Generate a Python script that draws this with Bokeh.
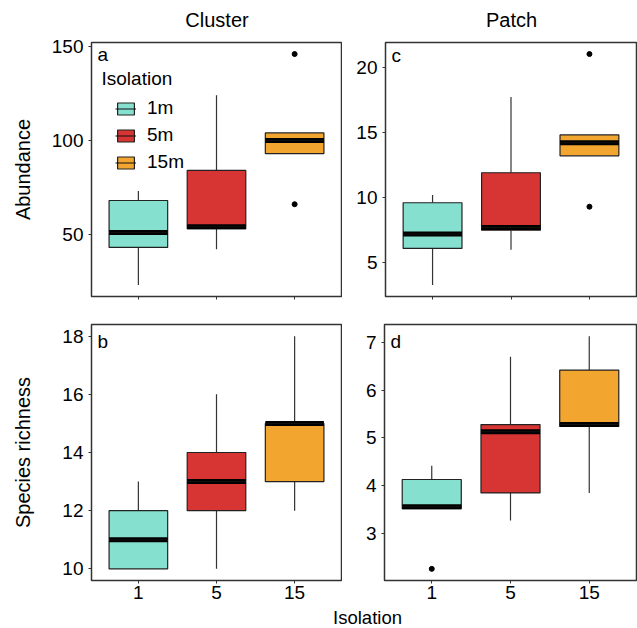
import numpy as np
from bokeh.plotting import figure
from bokeh.models import (Range1d, FixedTicker, Label, Legend, LegendItem,
                          ColumnDataSource)
from bokeh.layouts import column, row
from bokeh.embed import file_html
from bokeh.resources import INLINE

FONT = "Liberation Sans"

# ---------------- data ----------------
isolation = ["1", "5", "15"]
legend_labels = ["1m", "5m", "15m"]
colors = ["#85E0CF", "#D63534", "#F2A630"]
col_titles = ["Cluster", "Patch"]

# (a) Cluster - Abundance
a_low = [23, 42, 93]
a_q1 = [43, 53, 93]
a_med = [51, 54, 100]
a_q3 = [68, 84, 104]
a_high = [73, 124, 104]
a_out_cat = ["15", "15"]
a_out_val = [146, 66]
a_yticks = [50, 100, 150]

# (c) Patch - Abundance
c_low = [3.3, 6.0, 13.2]
c_q1 = [6.1, 7.5, 13.2]
c_med = [7.2, 7.7, 14.2]
c_q3 = [9.6, 11.9, 14.8]
c_high = [10.2, 17.7, 14.8]
c_out_cat = ["15", "15"]
c_out_val = [21.0, 9.3]
c_yticks = [5, 10, 15, 20]

# (b) Cluster - Species richness
b_low = [10, 10, 12]
b_q1 = [10, 12, 13]
b_med = [11, 13, 15]
b_q3 = [12, 14, 15]
b_high = [13, 16, 18]
b_out_cat = []
b_out_val = []
b_yticks = [10, 12, 14, 16, 18]

# (d) Patch - Species richness
d_low = [3.52, 3.27, 3.85]
d_q1 = [3.52, 3.85, 5.24]
d_med = [3.56, 5.13, 5.28]
d_q3 = [4.13, 5.28, 6.42]
d_high = [4.42, 6.70, 7.13]
d_out_cat = ["1"]
d_out_val = [2.26]
d_yticks = [3, 4, 5, 6, 7]

BOX_W = 0.75


def ypad(lo, hi):
    span = hi - lo
    return lo - 0.05 * span, hi + 0.05 * span


def panel(low, q1, med, q3, high, out_cat, out_val, yticks, *, width, height,
          border, show_xlabels, ylabel=None, label_standoff=15,
          letter="a", letter_drop=13.4, legend=False):
    xs = np.arange(1, len(isolation) + 1)
    pos = {c: i + 1 for i, c in enumerate(isolation)}
    allv = list(low) + list(high) + list(out_val)
    lo, hi = ypad(min(allv), max(allv))
    p = figure(width=width, height=height, x_range=Range1d(0.4, len(isolation) + 0.6),
               y_range=Range1d(lo, hi), output_backend="svg", toolbar_location=None,
               min_border_left=border[0], min_border_right=border[1],
               min_border_top=border[2], min_border_bottom=border[3])
    p.grid.visible = False
    p.outline_line_color = "#333333"
    p.outline_line_width = 1.5
    p.background_fill_color = "white"
    p.border_fill_color = "white"

    for ax in p.axis:
        ax.axis_line_color = "#333333"
        ax.axis_line_width = 1
        ax.major_tick_out = 3
        ax.major_tick_in = 0
        ax.minor_tick_out = 0
        ax.minor_tick_in = 0
        ax.major_tick_line_color = "#333333"
        ax.major_label_text_font = FONT
        ax.major_label_text_font_size = "19px"
        ax.major_label_text_color = "black"
        ax.axis_label_text_font = FONT
        ax.axis_label_text_font_size = "20px"
        ax.axis_label_text_font_style = "normal"
        ax.axis_label_text_color = "black"
    p.xaxis.ticker = FixedTicker(ticks=[int(x) for x in xs])
    p.xaxis.major_label_overrides = {int(x): c for x, c in zip(xs, isolation)}
    p.xaxis.major_label_standoff = 2
    if not show_xlabels:
        p.xaxis.major_label_text_color = None
    p.yaxis.ticker = FixedTicker(ticks=yticks)
    p.yaxis.major_label_standoff = 5
    if ylabel:
        p.yaxis.axis_label = ylabel
        p.yaxis.axis_label_standoff = label_standoff

    frame_h = height - border[2] - border[3]

    src = ColumnDataSource(dict(
        x=xs, low=low, q1=q1, med=med, q3=q3, high=high,
        left=xs - BOX_W / 2, right=xs + BOX_W / 2, color=colors,
        label=legend_labels))
    p.segment(x0="x", x1="x", y0="q3", y1="high", source=src,
              line_color="#333333", line_width=1.2)
    p.segment(x0="x", x1="x", y0="low", y1="q1", source=src,
              line_color="#333333", line_width=1.2)
    box_r = p.vbar(x="x", width=BOX_W, bottom="q1", top="q3", source=src,
                   fill_color="color", line_color="#222222", line_width=1.2)
    p.segment(x0="left", x1="right", y0="med", y1="med", source=src,
              line_color="black", line_width=5, line_cap="butt")
    thin_r = p.segment(x0="left", x1="right", y0="med", y1="med", source=src,
                       line_color="#111111", line_width=1, line_cap="butt")
    if out_cat:
        p.scatter(x=[pos[c] for c in out_cat], y=out_val, size=5,
                  color="black")

    p.add_layout(Label(x=6, y=frame_h - letter_drop,
                       x_units="screen", y_units="screen", text=letter,
                       text_font=FONT, text_font_size="19px",
                       text_baseline="alphabetic", text_color="black"))

    if legend:
        items = [LegendItem(label=lab, renderers=[box_r, thin_r], index=i)
                 for i, lab in enumerate(legend_labels)]
        leg = Legend(items=items, location=(24, 123), glyph_width=21,
                     glyph_height=15, label_standoff=11, spacing=5,
                     padding=0, margin=0, background_fill_alpha=0,
                     border_line_color=None, label_text_font=FONT,
                     label_text_font_size="19px", label_text_color="black",
                     label_height=15)
        p.add_layout(leg)
        p.add_layout(Label(x=10, y=frame_h - 37.4, x_units="screen",
                           y_units="screen", text="Isolation", text_font=FONT,
                           text_font_size="19px", text_baseline="alphabetic",
                           text_color="black"))
    return p


def strip_fig(height):
    s = figure(width=637, height=height, output_backend="svg",
               toolbar_location=None, x_axis_location=None,
               y_axis_location=None, min_border=0, outline_line_color=None)
    s.grid.visible = False
    return s


TOP_H = 33
pa = panel(a_low, a_q1, a_med, a_q3, a_high, a_out_cat, a_out_val, a_yticks,
           width=342, height=310 - TOP_H, border=(91, 1, 42 - TOP_H, 13),
           show_xlabels=False, ylabel="Abundance", label_standoff=15,
           letter="a", letter_drop=13.4, legend=True)
pc = panel(c_low, c_q1, c_med, c_q3, c_high, c_out_cat, c_out_val, c_yticks,
           width=295, height=310 - TOP_H, border=(43, 1, 42 - TOP_H, 14),
           show_xlabels=False, letter="c", letter_drop=13.4)
pb = panel(b_low, b_q1, b_med, b_q3, b_high, b_out_cat, b_out_val, b_yticks,
           width=342, height=297, border=(91, 1, 14, 27), show_xlabels=True,
           ylabel="Species richness", label_standoff=25, letter="b",
           letter_drop=17.4)
pd_ = panel(d_low, d_q1, d_med, d_q3, d_high, d_out_cat, d_out_val, d_yticks,
            width=295, height=297, border=(42, 1, 14, 27), show_xlabels=True,
            letter="d", letter_drop=17.4)

# column headings (centred over panel frames a and c)
top = strip_fig(TOP_H)
for title, cx in zip(col_titles, [216.5, 511]):
    top.add_layout(Label(x=cx, y=TOP_H - 19, x_units="screen", y_units="screen",
                         text=title, text_font=FONT, text_font_size="20px",
                         text_align="center", text_baseline="alphabetic",
                         text_color="black"))

# shared x-axis title
bottom = strip_fig(21)
bottom.add_layout(Label(x=367, y=10.6, x_units="screen", y_units="screen",
                        text="Isolation", text_font=FONT, text_font_size="18.5px",
                        text_align="center", text_baseline="alphabetic",
                        text_color="black"))

layout = column(top, row(pa, pc), row(pb, pd_), bottom)
open("out.html", "w").write(file_html(layout, INLINE))
